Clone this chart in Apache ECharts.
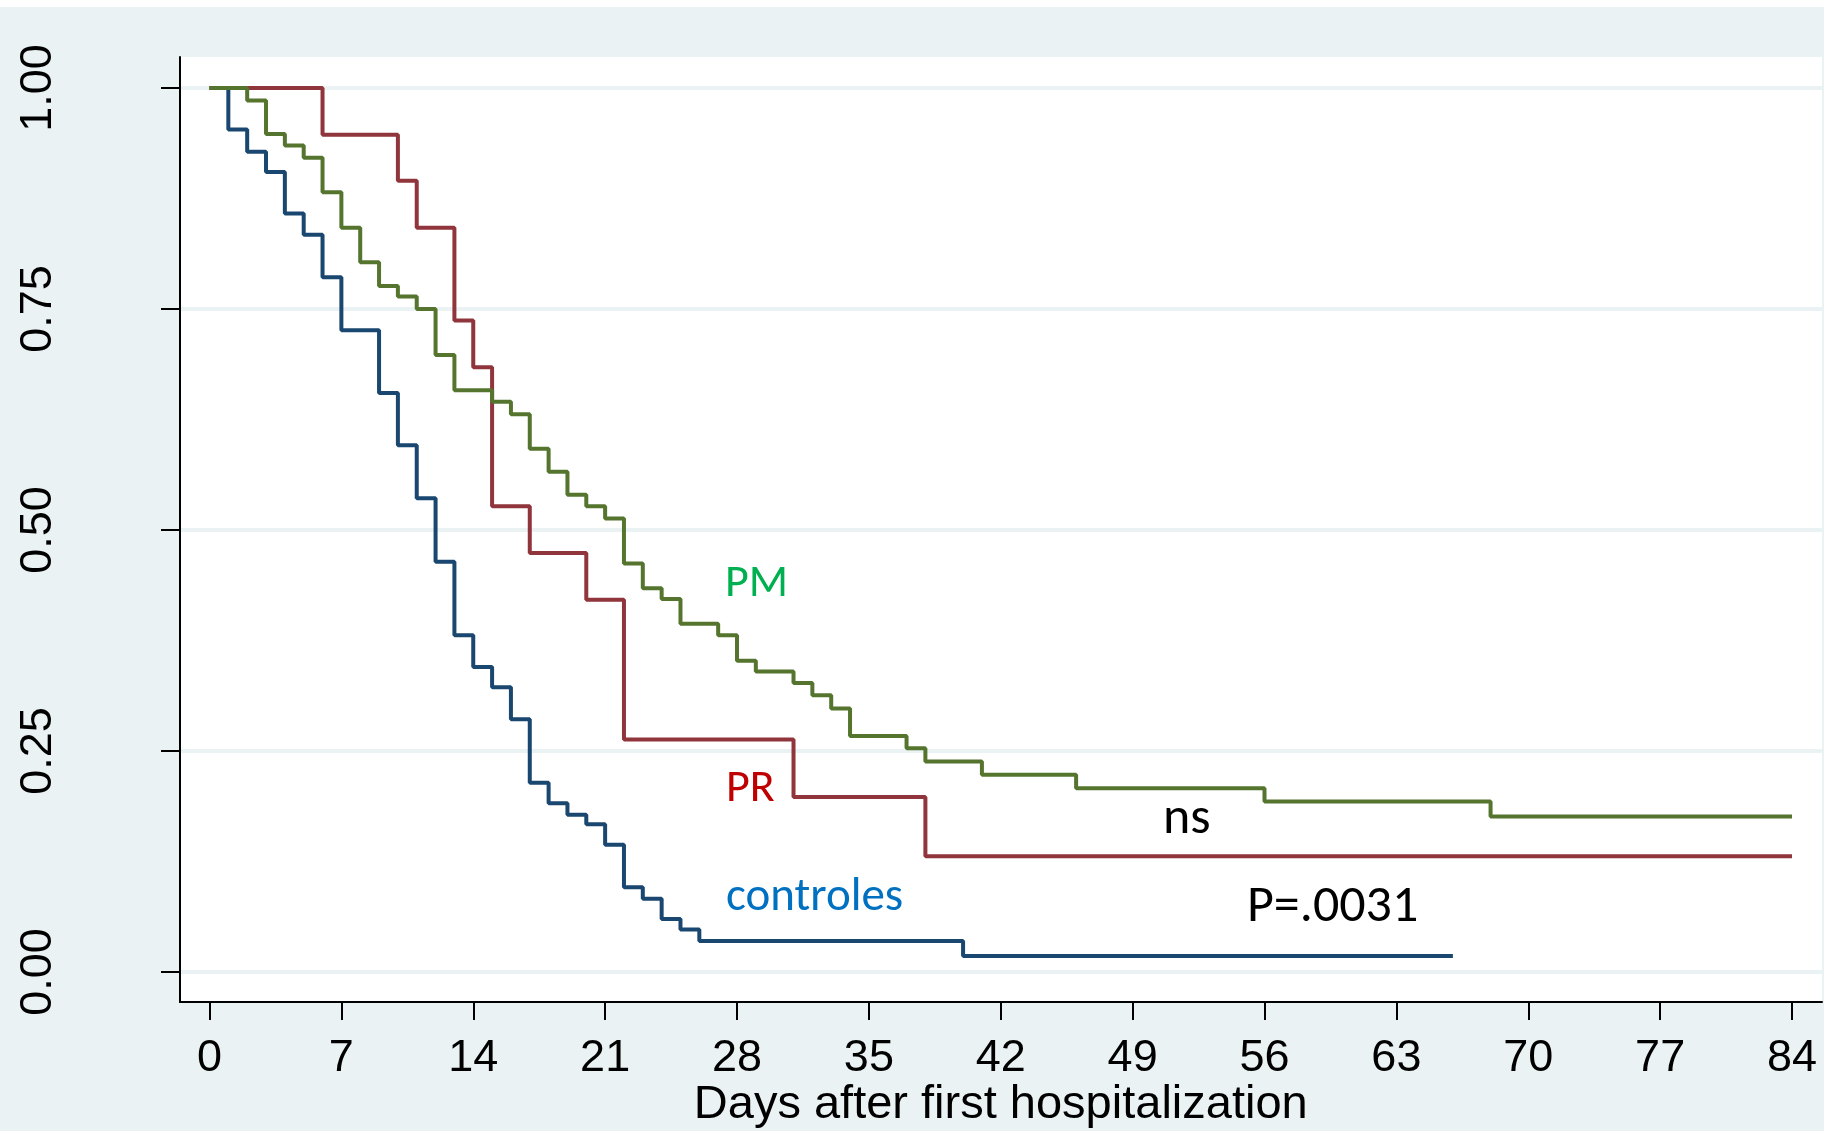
<!DOCTYPE html>
<html>
<head>
<meta charset="utf-8">
<title>Survival after first hospitalization</title>
<script src="https://cdn.jsdelivr.net/npm/echarts@6/dist/echarts.min.js"></script>
<style>
  html, body { margin: 0; padding: 0; background: #eaf2f3; }
  #chart { width: 1824px; height: 1131px; }
</style>
</head>
<body>
<div id="chart"></div>
<script>
// controles
var ctrlDays = [0, 1, 2, 3, 4, 5, 6, 7, 9, 10, 11, 12, 13, 14, 15, 16, 17, 18, 19, 20, 21, 22, 23, 24, 25, 26, 40, 66];
var ctrlSurv = [1, 0.953, 0.928, 0.905, 0.858, 0.834, 0.786, 0.726, 0.655, 0.596, 0.536, 0.464, 0.381, 0.345, 0.322, 0.286, 0.214, 0.191, 0.178, 0.167, 0.144, 0.096, 0.083, 0.060, 0.048, 0.035, 0.018, 0.018];

// PR
var prDays = [0, 6, 10, 11, 13, 14, 15, 17, 20, 22, 31, 38, 84];
var prSurv = [1, 0.947, 0.895, 0.842, 0.737, 0.684, 0.527, 0.474, 0.421, 0.263, 0.198, 0.131, 0.131];

// PM
var pmDays = [0, 2, 3, 4, 5, 6, 7, 8, 9, 10, 11, 12, 13, 15, 16, 17, 18, 19, 20, 21, 22, 23, 24, 25, 27, 28, 29, 31, 32, 33, 34, 37, 38, 41, 46, 56, 68, 84];
var pmSurv = [1, 0.986, 0.948, 0.935, 0.921, 0.882, 0.842, 0.803, 0.776, 0.764, 0.750, 0.698, 0.658, 0.645, 0.631, 0.592, 0.566, 0.540, 0.527, 0.513, 0.462, 0.434, 0.422, 0.394, 0.381, 0.352, 0.340, 0.327, 0.313, 0.298, 0.267, 0.253, 0.238, 0.223, 0.208, 0.193, 0.176, 0.176];

var xTicks = [0, 7, 14, 21, 28, 35, 42, 49, 56, 63, 70, 77, 84];
var yTicks = [0, 0.25, 0.5, 0.75, 1];

var axisFont = "'Liberation Sans', Arial, sans-serif";
var noteFont = "Carlito, Calibri, Lato, sans-serif";

// plot geometry (px): y=0 sits 30px above the x axis line, y=1 at 88px
var yZeroGap = 30;
var yUnitPx = 884;

function toPairs(days, surv) {
    return days.map(function (d, i) { return [d, surv[i]]; });
}

var chart = echarts.init(document.getElementById('chart'));

var option = {
    animation: false,
    backgroundColor: '#eaf2f3',
    grid: [
        // white plot region with the axis lines
        { left: 180, right: 2, top: 57, bottom: 129, show: true, backgroundColor: '#ffffff', borderWidth: 0, outerBoundsMode: 'none' },
        // y ticks, labels and grid lines
        { left: 180, right: 0, top: 88, bottom: 159, outerBoundsMode: 'none' },
        // curves and x ticks (bottom edge on the x axis line)
        { left: 209.5, right: 32, top: 88, bottom: 129, outerBoundsMode: 'none' }
    ],
    xAxis: [
        {
            gridIndex: 0, type: 'value', min: 0, max: 1,
            axisLine: { show: true, onZero: false, lineStyle: { color: '#000', width: 2 } },
            axisTick: { show: false }, axisLabel: { show: false }, splitLine: { show: false }
        },
        { gridIndex: 1, type: 'value', min: 0, max: 1, show: false },
        {
            gridIndex: 2, type: 'value',
            min: xTicks[0], max: xTicks[xTicks.length - 1], interval: xTicks[1] - xTicks[0],
            axisLine: { show: false, onZero: false },
            axisTick: { show: true, inside: false, length: 18, lineStyle: { color: '#000', width: 2 } },
            axisLabel: { color: '#000', fontSize: 45, fontFamily: axisFont, margin: 34 },
            splitLine: { show: false },
            name: 'Days after first hospitalization',
            nameLocation: 'middle',
            nameGap: 80,
            nameMoveOverlap: false,
            nameTextStyle: { color: '#000', fontSize: 47, fontFamily: axisFont }
        }
    ],
    yAxis: [
        {
            gridIndex: 0, type: 'value', min: 0, max: 1,
            axisLine: { show: true, onZero: false, lineStyle: { color: '#000', width: 2 } },
            axisTick: { show: false }, axisLabel: { show: false }, splitLine: { show: false }
        },
        {
            gridIndex: 1, type: 'value',
            min: yTicks[0], max: yTicks[yTicks.length - 1], interval: yTicks[1] - yTicks[0],
            axisLine: { show: false },
            axisTick: { show: true, length: 19, lineStyle: { color: '#000', width: 2 } },
            axisLabel: {
                color: '#000', fontSize: 45, fontFamily: axisFont, rotate: 90, margin: 119,
                formatter: function (v) { return v.toFixed(2); }
            },
            splitLine: { show: true, lineStyle: { color: '#eaf2f3', width: 4 } }
        },
        { gridIndex: 2, type: 'value', min: -yZeroGap / yUnitPx, max: 1, show: false }
    ],
    series: [
        {
            name: 'controles', type: 'line', step: 'end', xAxisIndex: 2, yAxisIndex: 2,
            data: toPairs(ctrlDays, ctrlSurv), showSymbol: false,
            lineStyle: { color: '#1a476f', width: 4 }
        },
        {
            name: 'PR', type: 'line', step: 'end', xAxisIndex: 2, yAxisIndex: 2,
            data: toPairs(prDays, prSurv), showSymbol: false,
            lineStyle: { color: '#90353b', width: 4 }
        },
        {
            name: 'PM', type: 'line', step: 'end', xAxisIndex: 2, yAxisIndex: 2,
            data: toPairs(pmDays, pmSurv), showSymbol: false,
            lineStyle: { color: '#55752f', width: 4 }
        }
    ],
    graphic: [
        // thin white strip along the top edge
        { type: 'rect', left: 0, top: 0, shape: { width: 1824, height: 7 }, style: { fill: '#ffffff' } },
        { type: 'text', x: 725, y: 584, style: { text: 'PM', fill: '#00b050', font: '46px ' + noteFont, verticalAlign: 'middle' } },
        { type: 'text', x: 726, y: 789, style: { text: 'PR', fill: '#c00000', font: '46px ' + noteFont, verticalAlign: 'middle' } },
        { type: 'text', x: 726, y: 898, style: { text: 'controles', fill: '#0070c0', font: '47px ' + noteFont, verticalAlign: 'middle' } },
        { type: 'text', x: 1163, y: 820, style: { text: 'ns', fill: '#000', font: '52px ' + noteFont, verticalAlign: 'middle' } },
        { type: 'text', x: 1247, y: 908, style: { text: 'P=.0031', fill: '#000', font: '52px ' + noteFont, verticalAlign: 'middle' } }
    ]
};

chart.setOption(option);
</script>
</body>
</html>
